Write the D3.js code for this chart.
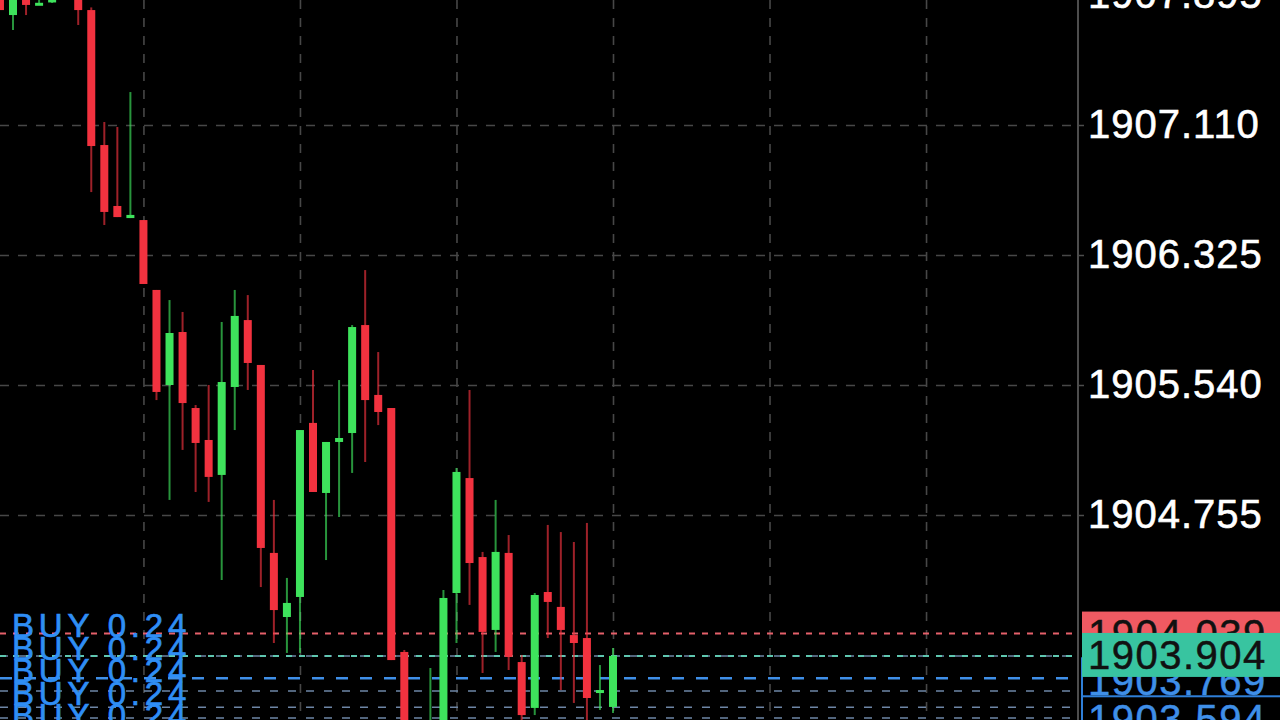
<!DOCTYPE html>
<html><head><meta charset="utf-8">
<script src="https://cdn.jsdelivr.net/npm/d3@7"></script>
<style>html,body{margin:0;padding:0;background:#000;overflow:hidden}</style>
</head><body><svg id="c" width="1280" height="720"></svg>
<script>
// ---- data (bar numbers start at -1, partially off the left edge) ----
const firstBar = -1;
const open  = [1907.925,1907.774,1907.930,1907.840,1907.850,1907.990,1907.980,1907.804,1906.989,1906.621,1906.548,1906.536,1906.114,1905.540,1905.860,1905.401,1905.208,1904.997,1905.528,1905.932,1905.661,1904.526,1904.139,1904.260,1905.311,1904.888,1905.196,1905.250,1905.902,1905.480,1905.401,1903.928,1903.450,1903.360,1903.440,1904.284,1904.978,1904.501,1904.061,1904.526,1903.867,1903.590,1904.290,1904.200,1904.030,1904.012,1903.686,1903.596];
const high  = [1907.960,1908.000,1907.980,1907.920,1907.980,1908.050,1908.020,1907.820,1907.128,1907.098,1907.309,1906.536,1906.114,1906.053,1905.981,1905.419,1905.540,1905.920,1906.114,1906.083,1905.661,1904.846,1904.375,1905.268,1905.631,1905.196,1905.570,1905.902,1906.234,1905.739,1905.401,1903.940,1903.480,1903.831,1904.302,1905.039,1905.510,1904.532,1904.846,1904.634,1903.910,1904.284,1904.695,1904.652,1904.592,1904.707,1903.849,1903.952];
const low   = [1907.804,1907.684,1907.774,1907.835,1907.847,1907.940,1907.714,1906.705,1906.506,1906.554,1906.548,1906.150,1905.449,1904.846,1905.148,1904.894,1904.834,1904.363,1905.268,1905.510,1904.320,1903.982,1903.922,1903.922,1904.894,1904.483,1904.743,1905.009,1905.075,1905.298,1903.879,1903.400,1903.300,1903.300,1903.400,1903.982,1904.212,1903.801,1903.928,1903.819,1903.517,1903.547,1904.012,1903.698,1903.620,1903.487,1903.578,1903.559];
const close = [1907.804,1907.950,1907.835,1907.848,1907.920,1908.000,1907.804,1906.983,1906.585,1906.554,1906.567,1906.150,1905.498,1905.854,1905.431,1905.190,1904.985,1905.558,1905.957,1905.673,1904.556,1904.181,1904.224,1905.268,1904.894,1905.196,1905.220,1905.890,1905.449,1905.377,1903.879,1903.457,1903.350,1903.450,1904.254,1905.015,1904.465,1904.049,1904.532,1903.898,1903.547,1904.272,1904.230,1904.061,1903.982,1903.650,1903.698,1903.904];

const priceTicks = [1907.895, 1907.110, 1906.325, 1905.540, 1904.755];
const gridBars = [10, 22, 34, 46, 58, 70];

const askPrice = 1904.039;
const bidPrice = 1903.904;
const positionPrices = [1903.904, 1903.769, 1903.692, 1903.594, 1903.529];
const positionLabels = ["BUY 0.24","BUY 0.24","BUY 0.24","BUY 0.24","BUY 0.24"];
const taggedPositions = [1903.769, 1903.594];

// ---- layout ----
const W = 1280, H = 720, plotRight = 1078;
const FONT = "Liberation Sans, Arial, sans-serif";
const svg = d3.select("#c");
svg.append("rect").attr("width", W).attr("height", H).attr("fill", "#000");

const x = d3.scaleLinear().domain([0, 46]).range([13, 613]);
const y = d3.scaleLinear().domain([1904.755, 1907.110]).range([515, 125]);

const bars = open.map((o, i) => ({bar: firstBar + i, o, h: high[i], l: low[i], c: close[i]}));

svg.append("clipPath").attr("id", "plot").append("rect")
  .attr("x", 0).attr("y", 0).attr("width", plotRight).attr("height", H);
const plot = svg.append("g").attr("clip-path", "url(#plot)");

// grid
const gridColor = "#474747";
plot.append("g")
  .call(d3.axisRight(y).tickValues(priceTicks).tickSize(plotRight).tickFormat(""))
  .call(g => g.select(".domain").remove())
  .call(g => g.selectAll("line").attr("stroke", gridColor).attr("stroke-width", 1.6).attr("stroke-dasharray", "9,9"));
plot.append("g")
  .call(d3.axisBottom(x).tickValues(gridBars).tickSize(H).tickFormat(""))
  .call(g => g.select(".domain").remove())
  .call(g => g.selectAll("line").attr("stroke", gridColor).attr("stroke-width", 1.6).attr("stroke-dasharray", "9,9"));

// price lines
plot.append("line").attr("x1", 0).attr("x2", plotRight)
  .attr("y1", y(askPrice)).attr("y2", y(askPrice))
  .attr("stroke", "#e5606a").attr("stroke-width", 2).attr("stroke-dasharray", "6,7");
plot.selectAll("line.pos").data(positionPrices).join("line").attr("class", "pos")
  .attr("x1", 0).attr("x2", plotRight)
  .attr("y1", d => y(d)).attr("y2", d => y(d))
  .attr("stroke", (d, i) => i === 1 ? "#3f8fe8" : "#6e86a6")
  .attr("stroke-width", (d, i) => i === 1 ? 2.5 : 1.5)
  .attr("stroke-dasharray", (d, i) => i === 1 ? "12,12" : "8,10");
plot.append("line").attr("x1", 0).attr("x2", plotRight)
  .attr("y1", y(bidPrice)).attr("y2", y(bidPrice))
  .attr("stroke", "#5fc7b0").attr("stroke-width", 2).attr("stroke-dasharray", "6,7");

// candles
const up = "#3ee35c", down = "#f2323f";
const cg = plot.append("g");
cg.selectAll("line.wick").data(bars).join("line").attr("class", "wick")
  .attr("x1", d => x(d.bar)).attr("x2", d => x(d.bar))
  .attr("y1", d => y(d.h)).attr("y2", d => y(d.l))
  .attr("stroke", d => d.c >= d.o ? up : down)
  .attr("stroke-opacity", 0.65).attr("stroke-width", 2);
cg.selectAll("rect.body").data(bars).join("rect").attr("class", "body")
  .attr("x", d => x(d.bar) - 4).attr("width", 8)
  .attr("y", d => y(Math.max(d.o, d.c)))
  .attr("height", d => Math.max(3, Math.abs(y(d.o) - y(d.c))))
  .attr("fill", d => d.c >= d.o ? up : down);

// BUY labels
plot.selectAll("text.buy").data(positionLabels).join("text").attr("class", "buy")
  .attr("x", 12).attr("y", (d, i) => 637 + i * 22.5)
  .attr("font-family", FONT)
  .attr("font-size", 33).attr("letter-spacing", 4.8)
  .attr("fill", "#2f8ef5").attr("stroke", "#2f8ef5").attr("stroke-width", 0.7)
  .text(d => d);

// right axis
svg.append("line").attr("x1", plotRight).attr("x2", plotRight).attr("y1", 0).attr("y2", H)
  .attr("stroke", "#4d4d4d").attr("stroke-width", 2);
svg.append("g").attr("transform", `translate(${plotRight},0)`)
  .call(d3.axisRight(y).tickValues(priceTicks).tickSize(6).tickPadding(4).tickFormat(d3.format(".3f")))
  .call(g => g.select(".domain").remove())
  .call(g => g.selectAll("line").attr("stroke", "#4d4d4d").attr("stroke-width", 1.5))
  .call(g => g.selectAll("text").attr("fill", "#fff").attr("font-size", 40)
        .attr("letter-spacing", 1).attr("stroke", "#fff").attr("stroke-width", 0.6)
        .attr("font-family", FONT));

// price tags (position tags are pushed down so they do not hide each other)
const tags = [
  {p: askPrice, cy: y(askPrice), fill: "#ef5a62", stroke: "none", text: "#111"}
];
let prev = -Infinity;
taggedPositions.forEach(p => {
  const cy = Math.max(y(p) + 2, prev + 38);
  prev = cy;
  tags.push({p, cy, fill: "#000", stroke: "#2f7fd8", text: "#3f8fe8"});
});
tags.push({p: bidPrice, cy: y(bidPrice) - 1, fill: "#38c4a0", stroke: "none", text: "#111"});

const tg = svg.append("g").selectAll("g").data(tags).join("g")
  .attr("transform", d => `translate(1082,${d.cy})`);
tg.append("rect").attr("x", 0).attr("y", -22).attr("width", 200).attr("height", 44)
  .attr("fill", d => d.fill).attr("stroke", d => d.stroke).attr("stroke-width", 2);
tg.append("text").attr("x", 6).attr("dy", "0.36em")
  .attr("font-family", FONT)
  .attr("font-size", 40).attr("letter-spacing", 1.5)
  .attr("fill", d => d.text).attr("stroke", d => d.text).attr("stroke-width", 0.5)
  .text(d => d3.format(".3f")(d.p));
</script></body></html>
